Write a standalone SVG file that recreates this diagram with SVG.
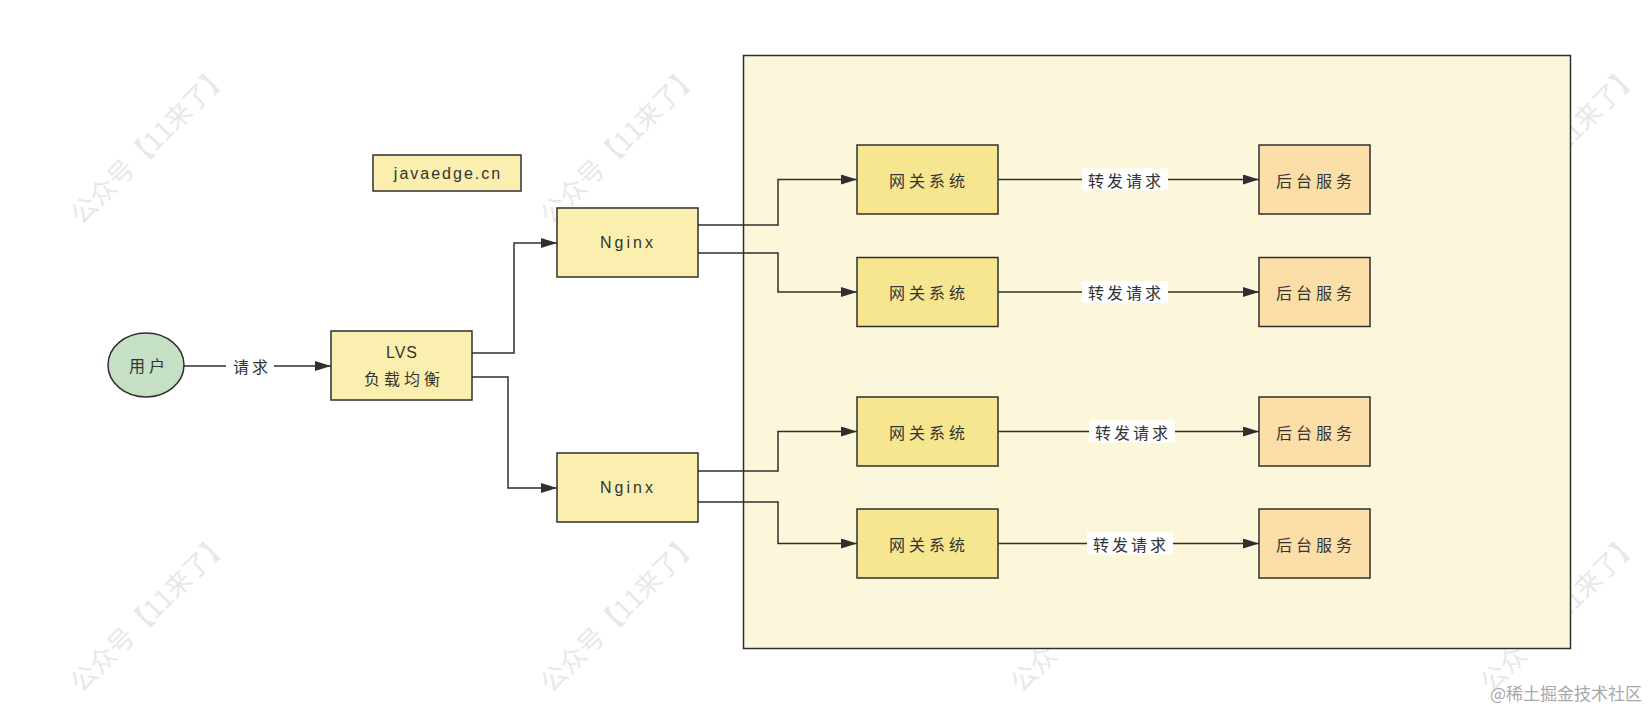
<svg xmlns="http://www.w3.org/2000/svg" width="1649" height="708" viewBox="0 0 1649 708">
<style>
.wm{font-family:"Noto Sans CJK SC",sans-serif;font-size:26px;fill:#e8e8e8;text-anchor:middle;dominant-baseline:central}
.node{stroke:#2f2f2f;stroke-width:1.5}
.n1{fill:#faefae}
.gw{fill:#f6e690}
.be{fill:#fcdfa8}
.t{font-family:"Noto Sans CJK SC",sans-serif;font-size:16px;fill:#333;text-anchor:middle;dominant-baseline:central;letter-spacing:4px}
.lt{font-family:"Liberation Sans",sans-serif;font-size:16px;fill:#333;text-anchor:middle;dominant-baseline:central;letter-spacing:2px}
.edge{fill:none;stroke:#2f2f2f;stroke-width:1.5}
.lbl{font-family:"Noto Sans CJK SC",sans-serif;font-size:16px;fill:#333;text-anchor:middle;dominant-baseline:central;letter-spacing:3px}
</style>
<defs>
<marker id="arr" viewBox="0 0 16 10" refX="16" refY="5" markerWidth="16" markerHeight="10" markerUnits="userSpaceOnUse" orient="auto">
<path d="M0,0 L16,5 L0,10 Z" fill="#2f2f2f"/>
</marker>
</defs>
<rect width="1649" height="708" fill="#ffffff"/>
<g id="watermarks">
<text class="wm" transform="translate(148,143) rotate(-45)">公众号【11来了】</text>
<text class="wm" transform="translate(618,143) rotate(-45)">公众号【11来了】</text>
<text class="wm" transform="translate(1088,143) rotate(-45)">公众号【11来了】</text>
<text class="wm" transform="translate(1558,143) rotate(-45)">公众号【11来了】</text>
<text class="wm" transform="translate(148,611) rotate(-45)">公众号【11来了】</text>
<text class="wm" transform="translate(618,611) rotate(-45)">公众号【11来了】</text>
<text class="wm" transform="translate(1088,611) rotate(-45)">公众号【11来了】</text>
<text class="wm" transform="translate(1558,611) rotate(-45)">公众号【11来了】</text>
</g>
<g id="container">
<rect x="743.5" y="55.5" width="827" height="593" fill="#fcf7db" stroke="#2f2f2f" stroke-width="1.5"/>
</g>
<g id="connectors">
<path class="edge" d="M184,366 L331,366" marker-end="url(#arr)"/>
<rect x="226" y="355" width="48" height="22" fill="#ffffff"/>
<text class="lbl" x="252" y="366">请求</text>
<path class="edge" d="M472,353 L514,353 L514,243 L557,243" marker-end="url(#arr)"/>
<path class="edge" d="M472,377 L508,377 L508,488 L557,488" marker-end="url(#arr)"/>
<path class="edge" d="M698,225 L778,225 L778,179.5 L857,179.5" marker-end="url(#arr)"/>
<path class="edge" d="M698,253 L778,253 L778,292 L857,292" marker-end="url(#arr)"/>
<path class="edge" d="M698,471 L778,471 L778,431.5 L857,431.5" marker-end="url(#arr)"/>
<path class="edge" d="M698,502 L778,502 L778,543.5 L857,543.5" marker-end="url(#arr)"/>
<path class="edge" d="M998,179.5 L1259,179.5" marker-end="url(#arr)"/>
<path class="edge" d="M998,292 L1259,292" marker-end="url(#arr)"/>
<path class="edge" d="M998,431.5 L1259,431.5" marker-end="url(#arr)"/>
<path class="edge" d="M998,543.5 L1259,543.5" marker-end="url(#arr)"/>
<rect x="1082" y="168.5" width="86" height="22" fill="#ffffff"/>
<text class="lbl" x="1126" y="179.5">转发请求</text>
<rect x="1082" y="281" width="86" height="22" fill="#ffffff"/>
<text class="lbl" x="1126" y="292">转发请求</text>
<rect x="1089" y="420.5" width="86" height="22" fill="#ffffff"/>
<text class="lbl" x="1133" y="431.5">转发请求</text>
<rect x="1087" y="532.5" width="86" height="22" fill="#ffffff"/>
<text class="lbl" x="1131" y="543.5">转发请求</text>
</g>
<g id="user">
<ellipse cx="146" cy="365" rx="38" ry="32" fill="#c5e0c5" class="node"/>
<text class="t" x="149" y="365">用户</text>
</g>
<g id="javaedge">
<rect x="373" y="155" width="148" height="36" class="node n1"/>
<text class="lt" x="448" y="173">javaedge.cn</text>
</g>
<g id="lvs">
<rect x="331" y="331" width="141" height="69" class="node n1"/>
<text class="lt" x="402" y="352" style="letter-spacing:1px">LVS</text>
<text class="t" x="404" y="378">负载均衡</text>
</g>
<g id="nginx1">
<rect x="557" y="208" width="141" height="69" class="node n1"/>
<text class="lt" x="628" y="242.5" style="letter-spacing:3px">Nginx</text>
</g>
<g id="nginx2">
<rect x="557" y="453" width="141" height="69" class="node n1"/>
<text class="lt" x="628" y="487.5" style="letter-spacing:3px">Nginx</text>
</g>
<g id="gateway1">
<rect x="857" y="145" width="141" height="69" class="node gw"/>
<text class="t" x="929" y="179.5">网关系统</text>
</g>
<g id="gateway2">
<rect x="857" y="257.5" width="141" height="69" class="node gw"/>
<text class="t" x="929" y="292">网关系统</text>
</g>
<g id="gateway3">
<rect x="857" y="397" width="141" height="69" class="node gw"/>
<text class="t" x="929" y="431.5">网关系统</text>
</g>
<g id="gateway4">
<rect x="857" y="509" width="141" height="69" class="node gw"/>
<text class="t" x="929" y="543.5">网关系统</text>
</g>
<g id="backend1">
<rect x="1259" y="145" width="111" height="69" class="node be"/>
<text class="t" x="1316" y="179.5">后台服务</text>
</g>
<g id="backend2">
<rect x="1259" y="257.5" width="111" height="69" class="node be"/>
<text class="t" x="1316" y="292">后台服务</text>
</g>
<g id="backend3">
<rect x="1259" y="397" width="111" height="69" class="node be"/>
<text class="t" x="1316" y="431.5">后台服务</text>
</g>
<g id="backend4">
<rect x="1259" y="509" width="111" height="69" class="node be"/>
<text class="t" x="1316" y="543.5">后台服务</text>
</g>
<text x="1642" y="692" font-family="Noto Sans CJK SC, sans-serif" font-size="17" fill="#a8a8a8" text-anchor="end" dominant-baseline="central">@稀土掘金技术社区</text>
</svg>
